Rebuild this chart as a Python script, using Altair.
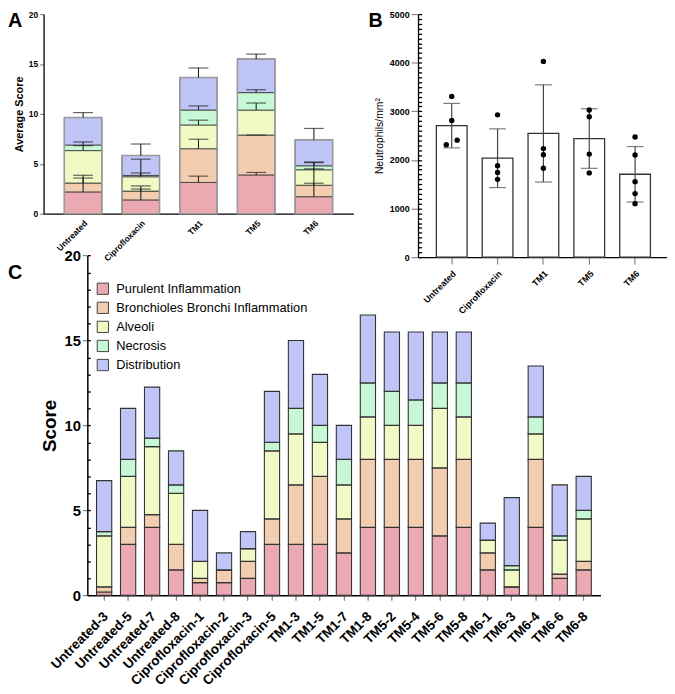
import altair as alt
import pandas as pd

W, H = 667, 686
FONT = "Liberation Sans"

# ---------------- data ----------------
categories = ["Purulent Inflammation", "Bronchioles Bronchi Inflammation",
              "Alveoli", "Necrosis", "Distribution"]
palette = ["#EBAAB2", "#F2CDAF", "#F1F9C5", "#C7F8D5", "#C0C5F7"]

groups = ["Untreated", "Ciprofloxacin", "TM1", "TM5", "TM6"]
a_purulent = [2.18, 1.38, 3.13, 3.88, 1.70]
a_bronchi = [0.89, 0.88, 3.38, 4.00, 1.15]
a_alveoli = [3.25, 1.44, 2.38, 2.50, 1.55]
a_necrosis = [0.56, 0.13, 1.50, 1.75, 0.40]
a_distribution = [2.75, 2.00, 3.25, 3.38, 2.60]
a_purulent_sd = [1.67, 1.09, 0.63, 0.25, 1.35]
a_bronchi_sd = [0.50, 0.52, 0.95, 0.00, 1.64]
a_alveoli_sd = [0.50, 1.76, 0.48, 0.71, 0.72]
a_necrosis_sd = [0.31, 0.25, 0.41, 0.29, 0.38]
a_distribution_sd = [0.50, 1.15, 0.96, 0.48, 1.14]

b_mean = [2705, 2035, 2545, 2440, 1705]
b_sd = [457, 604, 1000, 613, 570]
b_point_group = (["Untreated"] * 4 + ["Ciprofloxacin"] * 4 + ["TM1"] * 4
                 + ["TM5"] * 4 + ["TM6"] * 5)
b_point_value = [3307, 2813, 2313, 2407,
                 2927, 1880, 1740, 1600,
                 4027, 2233, 2107, 1827,
                 3027, 2887, 2120, 1733,
                 2473, 2100, 1553, 1307, 1100]
b_point_side = ["mid", "mid", "left", "right"] + ["mid"] * 17

samples = ["Untreated-3", "Untreated-5", "Untreated-7", "Untreated-8",
           "Ciprofloxacin-1", "Ciprofloxacin-2", "Ciprofloxacin-3", "Ciprofloxacin-5",
           "TM1-3", "TM1-5", "TM1-7", "TM1-8",
           "TM5-2", "TM5-4", "TM5-6", "TM5-8",
           "TM6-1", "TM6-3", "TM6-4", "TM6-6", "TM6-8"]
c_purulent = [0.2, 3, 4, 1.5, 0.75, 0.75, 1, 3, 3, 3, 2.5, 4, 4, 4, 3.5, 4, 1.5, 0.5, 4, 1, 1.5]
c_bronchi = [0.3, 1, 0.75, 1.5, 0.25, 0.75, 1, 1.5, 3.5, 4, 2, 4, 4, 4, 4, 4, 1, 0, 4, 0.25, 0.5]
c_alveoli = [3, 3, 4, 3, 1, 0, 0.75, 4, 3, 2, 2, 2.5, 2, 2, 3.5, 2.5, 0.75, 1, 1.5, 2, 2.5]
c_necrosis = [0.25, 1, 0.5, 0.5, 0, 0, 0, 0.5, 1.5, 1, 1.5, 2, 2, 1.5, 1.5, 2, 0, 0.25, 1, 0.25, 0.5]
c_distribution = [3, 3, 3, 2, 3, 1, 1, 3, 4, 3, 2, 4, 3.5, 4, 3, 3, 1, 4, 3, 3, 2]

panel_letters = ["A", "B", "C"]

# ---------------- tables ----------------
a_means = [a_purulent, a_bronchi, a_alveoli, a_necrosis, a_distribution]
a_sds = [a_purulent_sd, a_bronchi_sd, a_alveoli_sd, a_necrosis_sd, a_distribution_sd]
rowsA = []
for k, cat in enumerate(categories):
    for g, grp in enumerate(groups):
        rowsA.append({"group": grp, "category": cat, "idx": k,
                      "mean": a_means[k][g], "sd": a_sds[k][g]})
dfA = pd.DataFrame(rowsA)

dfB = pd.DataFrame({"group": groups, "mean": b_mean, "sd": b_sd})
dfBp = pd.DataFrame({"group": b_point_group, "value": b_point_value, "side": b_point_side})

c_vals = [c_purulent, c_bronchi, c_alveoli, c_necrosis, c_distribution]
rowsC = []
for k, cat in enumerate(categories):
    for s, smp in enumerate(samples):
        rowsC.append({"sample": smp, "category": cat, "idx": k, "value": c_vals[k][s]})
dfC = pd.DataFrame(rowsC)

legend = alt.Legend(orient="none", legendX=89.5, legendY=273.5, title=None,
                    symbolType="square", symbolSize=130, symbolStrokeColor="#444",
                    symbolStrokeWidth=1, labelFont=FONT, labelFontSize=13,
                    labelColor="black", rowPadding=2.3, padding=0, labelOffset=7,
                    labelLimit=0)
color = alt.Color("category:N", scale=alt.Scale(domain=categories, range=palette),
                  legend=legend)

# ---------------- panel A ----------------
xA_scale = alt.Scale(range=[36, 349.6], paddingInner=0.35, paddingOuter=0.36)
yA_scale = alt.Scale(domain=[0, 20], range=[204, 2], nice=False)
axA_x = alt.Axis(orient="bottom", offset=204 - H, title=None, labelAngle=-45,
                 labelAlign="right", labelBaseline="top", labelFont=FONT,
                 labelFontWeight="bold", labelFontSize=8.5, labelPadding=5,
                 ticks=False, tickSize=0, domainWidth=1.3, labelOffset=0)
axA_y = alt.Axis(orient="left", offset=-36, values=[0, 5, 10, 15, 20], tickSize=4,
                 tickWidth=1.2, domainWidth=1.3, labelFont=FONT, labelFontWeight="bold",
                 labelFontSize=8.5, labelPadding=2, title="Average Score",
                 titleFont=FONT, titleFontWeight="bold", titleFontSize=11, titlePadding=4)

xA = alt.X("group:N", sort=groups, scale=xA_scale, axis=axA_x)
baseA = alt.Chart(dfA)
barsA = baseA.mark_bar(stroke="#333", strokeWidth=0.8).encode(
    x=xA,
    y=alt.Y("mean:Q", stack="zero", scale=yA_scale, axis=axA_y),
    color=color,
    order=alt.Order("idx:Q", sort="ascending"),
)
outlineA = baseA.transform_aggregate(total="sum(mean)", groupby=["group"]).mark_bar(
    fillOpacity=0, stroke="#9a9a9a", strokeWidth=1.5).encode(
    x=xA,
    y=alt.Y("total:Q", scale=yA_scale, axis=axA_y),
)
errA = baseA.transform_window(
    cum="sum(mean)", groupby=["group"], sort=[alt.SortField("idx", order="ascending")],
    frame=[None, 0]).transform_calculate(top="datum.cum + datum.sd")
ruleA = errA.mark_rule(color="#222", strokeWidth=1.1).encode(
    x=xA,
    y=alt.Y("cum:Q", scale=yA_scale, axis=axA_y),
    y2="top:Q",
)
capA = errA.mark_tick(color="#222", size=20, thickness=1.2).encode(
    x=xA,
    y=alt.Y("top:Q", scale=yA_scale, axis=axA_y),
)
panelA = alt.layer(barsA, outlineA, ruleA, capA)

# ---------------- panel B ----------------
xB_scale = alt.Scale(range=[415, 668.8], paddingInner=0.33, paddingOuter=0.4)
yB_scale = alt.Scale(domain=[0, 5000], range=[248, 2], nice=False)
axB_x = alt.Axis(orient="bottom", offset=248 - H, title=None, labelAngle=-45,
                 labelAlign="right", labelBaseline="top", labelFont=FONT,
                 labelFontWeight="bold", labelFontSize=9, labelPadding=5,
                 tickSize=7, tickWidth=1.2, domainWidth=1.3)
axB_y = alt.Axis(orient="left", offset=-415, values=[0, 1000, 2000, 3000, 4000, 5000],
                 format="d", tickSize=7, tickWidth=1.2, domainWidth=1.3, labelFont=FONT,
                 labelFontWeight="bold", labelFontSize=9, labelPadding=2,
                 title="Neutrophils/mm²", titleFont=FONT, titleFontWeight="normal",
                 titleFontSize=10.5, titlePadding=5)
axB_minor = alt.Axis(orient="left", offset=-415, values=list(range(0, 5001, 100)),
                     labels=False, domain=False, ticks=True, tickSize={"expr": "-3.6"},
                     tickWidth=1.3, tickColor="black", title=None)

xB = alt.X("group:N", sort=groups, scale=xB_scale, axis=axB_x)
barsB = alt.Chart(dfB).mark_bar(fill="white", stroke="#333", strokeWidth=1.3).encode(
    x=xB,
    y=alt.Y("mean:Q", scale=yB_scale, axis=axB_y),
)
errB = alt.Chart(dfB).transform_calculate(lo="datum.mean - datum.sd",
                                          hi="datum.mean + datum.sd")
ruleB = errB.mark_rule(color="#444", strokeWidth=1.2).encode(
    x=xB, y=alt.Y("lo:Q", scale=yB_scale, axis=axB_y), y2="hi:Q")
capHiB = errB.mark_tick(color="#444", size=17, thickness=1.2).encode(
    x=xB, y=alt.Y("hi:Q", scale=yB_scale, axis=axB_y))
capLoB = errB.mark_tick(color="#444", size=17, thickness=1.2).encode(
    x=xB, y=alt.Y("lo:Q", scale=yB_scale, axis=axB_y))
ptsB = []
for side, off in [("mid", 0), ("left", -5.5), ("right", 5.5)]:
    ptsB.append(alt.Chart(dfBp).transform_filter(alt.datum.side == side).mark_circle(
        color="black", opacity=1, size=30, xOffset=off).encode(
        x=xB, y=alt.Y("value:Q", scale=yB_scale, axis=axB_y)))
panelB = alt.layer(barsB, ruleB, capHiB, capLoB, *ptsB)
minorB = alt.Chart(dfB).mark_point(opacity=0).encode(
    y=alt.Y("sd:Q", scale=yB_scale, axis=axB_minor))

# ---------------- panel C ----------------
xC_scale = alt.Scale(range=[80.3, 599.7], paddingInner=0.365, paddingOuter=0.383)
yC_scale = alt.Scale(domain=[0, 20], range=[590.3, 246.3], nice=False)
axC_x = alt.Axis(orient="bottom", offset=590.3 - H, title=None, labelAngle=-45,
                 labelAlign="right", labelBaseline="top", labelFont=FONT,
                 labelFontWeight="bold", labelFontSize=13.5, labelPadding=9,
                 labelOffset=-3, tickSize=5, tickWidth=1.3, domainWidth=1.5)
axC_y = alt.Axis(orient="left", offset=-80.3, values=[0, 5, 10, 15, 20], tickSize=5,
                 tickWidth=1.3, domainWidth=1.5, labelFont=FONT, labelFontWeight="bold",
                 labelFontSize=15, labelPadding=2, title="Score", titleFont=FONT,
                 titleFontWeight="bold", titleFontSize=19, titlePadding=5)
axC_minor = alt.Axis(orient="left", offset=-80.3, values=list(range(0, 21)),
                     labels=False, domain=False, ticks=True, tickSize={"expr": "-3"},
                     tickWidth=1.3, tickColor="black", title=None)

panelC = alt.Chart(dfC).mark_bar(stroke="#333", strokeWidth=1.1).encode(
    x=alt.X("sample:N", sort=samples, scale=xC_scale, axis=axC_x),
    y=alt.Y("value:Q", stack="zero", scale=yC_scale, axis=axC_y),
    color=color,
    order=alt.Order("idx:Q", sort="ascending"),
)
minorC = alt.Chart(dfC).mark_point(opacity=0).encode(
    y=alt.Y("idx:Q", scale=yC_scale, axis=axC_minor))

# ---------------- panel letters ----------------
letter_pos = [(0, 15), (365, 15), (0, 270)]
letters = []
for t, (lx, ly) in zip(panel_letters, letter_pos):
    letters.append(alt.Chart(pd.DataFrame({"t": [t]})).mark_text(
        font=FONT, fontWeight="bold", fontSize=20, align="left", baseline="alphabetic",
        color="black").encode(x=alt.value(lx), y=alt.value(ly), text="t:N"))

chart = alt.layer(panelA, minorB, panelB, minorC, panelC, *letters).resolve_scale(
    x="independent", y="independent"
).properties(
    width=W, height=H, padding=0, autosize=alt.AutoSizeParams(type="none")
).configure_view(strokeWidth=0).configure_axis(
    grid=False, domainColor="black", labelColor="black", titleColor="black"
)

chart.save("out.html", embed_options={"renderer": "svg", "actions": False})
